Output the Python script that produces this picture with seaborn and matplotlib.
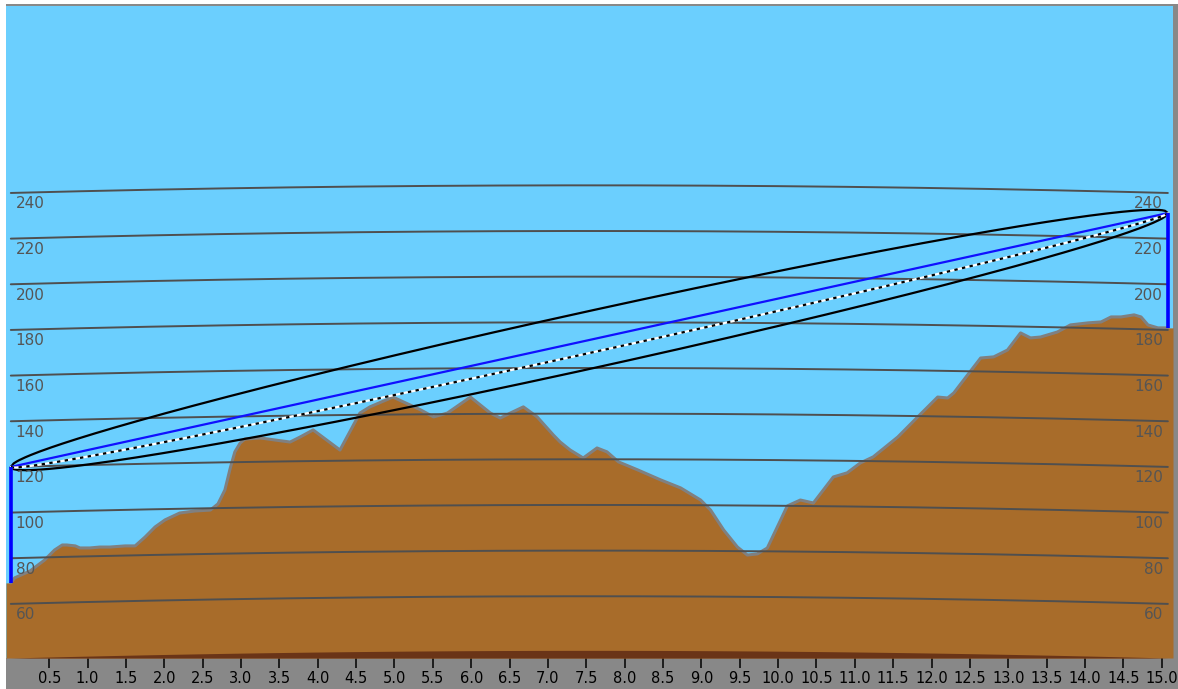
import numpy as np
import pandas as pd
import matplotlib
matplotlib.use("Agg")
import matplotlib.pyplot as plt
from matplotlib.patches import Rectangle
from matplotlib import font_manager as fm
import seaborn as sns

# ---- path profile (distance in km, terrain height in m as drawn) ----
distance_km = [0.00, 0.05, 0.25, 0.44, 0.57, 0.67, 0.73, 0.84, 0.90, 1.03,
               1.16, 1.29, 1.49, 1.62, 1.75, 1.88, 2.01, 2.20, 2.40, 2.60,
               2.70, 2.79, 2.86, 2.92, 2.99, 3.05, 3.25, 3.44, 3.64, 3.77,
               3.94, 4.29, 4.55, 4.68, 4.98, 5.34, 5.51, 5.69, 5.99, 6.25,
               6.38, 6.51, 6.68, 6.86, 7.07, 7.16, 7.29, 7.46, 7.64, 7.77,
               7.92, 8.17, 8.47, 8.73, 8.99, 9.12, 9.29, 9.47, 9.60, 9.73,
               9.86, 9.99, 10.12, 10.29, 10.46, 10.59, 10.72, 10.90, 11.07, 11.24,
               11.56, 11.82, 12.08, 12.21, 12.29, 12.47, 12.64, 12.81, 12.99, 13.16,
               13.29, 13.42, 13.64, 13.81, 14.04, 14.21, 14.34, 14.47, 14.64, 14.73,
               14.82, 14.95, 15.08]
terrain_m = [69.2, 71.4, 74.4, 79.2, 83.6, 85.8, 85.8, 85.4, 84.5, 84.5,
             84.9, 84.9, 85.4, 85.4, 89.3, 93.7, 96.8, 99.8, 100.7, 101.1,
             103.8, 109.9, 119.5, 126.6, 130.5, 132.2, 132.7, 131.8, 130.9, 133.1,
             136.2, 127.4, 143.6, 146.3, 150.6, 145.0, 141.9, 143.6, 150.6, 143.6,
             141.4, 143.6, 146.3, 141.9, 134.0, 130.9, 127.4, 123.9, 128.3, 126.6,
             122.2, 118.7, 114.3, 110.8, 105.5, 101.1, 92.4, 84.9, 81.4, 81.9,
             84.5, 93.7, 102.9, 105.5, 104.2, 109.9, 115.6, 117.4, 121.7, 124.4,
             133.1, 141.9, 150.6, 150.2, 152.4, 160.3, 167.7, 168.2, 171.2, 178.7,
             176.5, 176.9, 179.1, 182.2, 183.1, 183.5, 185.7, 185.7, 186.6, 185.7,
             182.2, 180.9, 180.9]

# ---- link parameters ----
antenna_top_m = [120.0, 231.2]       # antenna heights above datum at each end
frequency_ghz = 7.0
k_factor = 4.0 / 3.0
earth_radius_km = 6371.0
clearance_fraction = 0.45

grid_levels = [60, 80, 100, 120, 140, 160, 180, 200, 220, 240]
x_ticks = [0.5 * i for i in range(1, 31)]
x_tick_labels = [f"{t:.1f}" for t in x_ticks]

# ---- colours ----
SKY = "#6bcffe"
GROUND = "#a86c2a"
GROUND_EDGE = "#808080"
DEEP = "#6a3417"
GRID = "#4f4f4f"
PANEL = "#888888"


def font_or(name, fallback):
    try:
        fm.findfont(name, fallback_to_default=False)
        return name
    except Exception:
        return fallback


narrow_font = font_or("Liberation Sans Narrow", "DejaVu Sans")

sns.set_theme(style="white")
plt.rcParams["font.family"] = ["DejaVu Sans"]

W, H, DPI = 1178, 689, 100
fig = plt.figure(figsize=(W / DPI, H / DPI), dpi=DPI, facecolor="white")
fig.patches.append(Rectangle((6 / W, 0), 1 - 6 / W, 685 / H, transform=fig.transFigure,
                             facecolor=PANEL, edgecolor="none", zorder=-5))
ax = fig.add_axes([6 / W, 31 / H, 1167 / W, 652 / H])
ax.set_zorder(2)
ax.set_facecolor(SKY)
for s in ax.spines.values():
    s.set_visible(False)

path_len = distance_km[-1]
x_lo, x_hi = -0.063, 15.147
y_bottom, y_top = 36.3, 321.9
ax.set_xlim(x_lo, x_hi)
ax.set_ylim(y_bottom, y_top)

prof = pd.DataFrame({"distance": distance_km, "height": terrain_m})

# terrain, with the end heights carried out to the panel edges
fill_x = [x_lo] + distance_km + [x_hi]
fill_y = [terrain_m[0]] + terrain_m + [terrain_m[-1]]
ax.fill_between(fill_x, y_bottom, fill_y, color=GROUND, lw=0, zorder=2)
sns.lineplot(data=prof, x="distance", y="height", color=GROUND_EDGE, lw=2.2,
             ax=ax, zorder=3, legend=False)

# earth bulge geometry
dd = np.linspace(0.0, path_len, 400)
bulge = dd * (path_len - dd) / (2 * k_factor * earth_radius_km) * 1000.0

ax.fill_between(dd, y_bottom, y_bottom + bulge, color=DEEP, lw=0, zorder=2.5)

for lvl in grid_levels:
    ax.plot(dd, lvl + bulge, color=GRID, lw=1.4, zorder=4)
    ax.annotate(str(lvl), xy=(0, lvl), xytext=(3.5, -2.5), textcoords="offset points",
                ha="left", va="top", fontsize=11, color="#555555", zorder=7)
    ax.annotate(str(lvl), xy=(path_len, lvl), xytext=(-3.5, -2.5), textcoords="offset points",
                ha="right", va="top", fontsize=11, color="#555555", zorder=7)

# line of sight and first Fresnel zone
los = antenna_top_m[0] + (antenna_top_m[1] - antenna_top_m[0]) * dd / path_len
fresnel_r = 17.32 * np.sqrt(dd * (path_len - dd) / (frequency_ghz * path_len))
ray = pd.DataFrame({"distance": dd, "los": los,
                    "upper": los + fresnel_r, "lower": los - fresnel_r,
                    "clear": los - clearance_fraction * fresnel_r})

sns.lineplot(data=ray, x="distance", y="upper", color="black", lw=1.6, ax=ax, zorder=5)
sns.lineplot(data=ray, x="distance", y="lower", color="black", lw=1.6, ax=ax, zorder=5)
sns.lineplot(data=ray, x="distance", y="los", color="#1010ff", lw=1.6, ax=ax, zorder=5)
ax.plot(ray["distance"], ray["clear"], color="white", lw=1.6, zorder=5)
ax.plot(ray["distance"], ray["clear"], color="black", lw=1.6, ls=(0, (1.5, 2.0)), zorder=5.1)

# antenna masts
ax.plot([0, 0], [terrain_m[0], antenna_top_m[0]], color="#0000ff", lw=2.6, zorder=6,
        solid_capstyle="butt")
ax.plot([path_len, path_len], [terrain_m[-1], antenna_top_m[1]], color="#0000ff", lw=2.6,
        zorder=6, solid_capstyle="butt")

ax.set_xlabel("")
ax.set_ylabel("")
ax.set_yticks([])
ax.set_xticks(x_ticks)
ax.set_xticklabels(x_tick_labels, fontfamily=narrow_font, fontsize=10.5, color="black")
ax.tick_params(axis="x", direction="out", length=7.5, width=1.1, pad=2, colors="black",
               bottom=True)

fig.savefig("out.png", dpi=DPI, facecolor="white")
